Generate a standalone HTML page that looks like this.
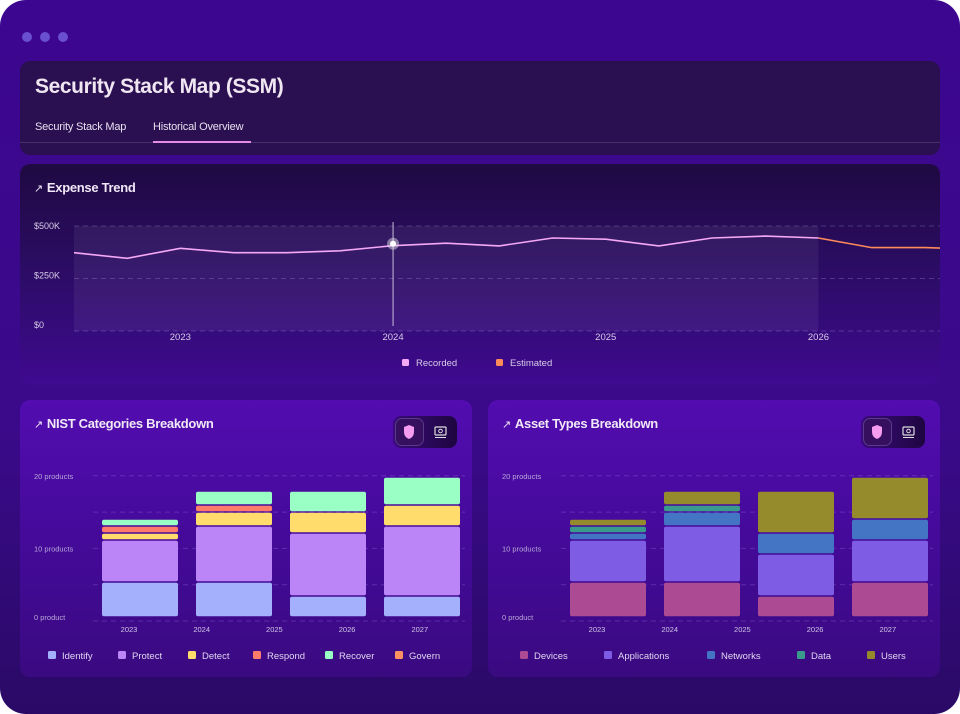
<!DOCTYPE html>
<html><head><meta charset="utf-8">
<style>
*{margin:0;padding:0;box-sizing:border-box}
body{width:960px;height:714px;background:#fff;font-family:"Liberation Sans",sans-serif;overflow:hidden}
#win{position:absolute;left:0;top:0;width:960px;height:714px;border-radius:26px;background:linear-gradient(180deg,#3c0690 0%,#3a0a8a 60%,#2a0a66 100%);overflow:hidden}
.dot{position:absolute;top:32px;width:10px;height:10px;border-radius:50%;background:#6a4fd0}
.card{position:absolute;border-radius:10px}
#hdr{left:20px;top:61px;width:920px;height:94px;background:#2a1050}
#hdr h1{position:absolute;left:15px;top:14px;font-size:21px;font-weight:bold;color:#efe6f2;letter-spacing:-0.4px}
.tab{position:absolute;top:60px;font-size:11px;color:#e8dff0;letter-spacing:-0.2px}
#tabline{position:absolute;left:0;top:81px;width:920px;height:1px;background:#46306a}
#tabul{position:absolute;left:133px;top:80px;width:98px;height:2px;background:#e58be6}
#exp{left:20px;top:164px;width:920px;height:221px;background:linear-gradient(180deg,#1f0a42 0%,#2c0c66 50%,#3f0a90 100%)}
.bc{top:400px;width:452px;height:277px;background:linear-gradient(180deg,#520cb0 0%,#420a95 60%,#3a0a80 100%)}
.ct{position:absolute;left:14px;top:16px;font-size:13px;font-weight:bold;color:#f0e8f6;letter-spacing:-0.3px}
.ct span{font-weight:normal;margin-right:4px;font-size:11px}
.tog{position:absolute;left:373px;top:16px;width:64px;height:32px;border-radius:8px;background:linear-gradient(90deg,#3a0a7a,#1e0640)}
.tog .on{position:absolute;left:2px;top:2px;width:29px;height:28px;border-radius:7px;background:#36105e;border:1px solid #5a3a8a}
svg text{font-family:"Liberation Sans",sans-serif}
</style></head><body>
<div id="win">
<div class="dot" style="left:22px"></div>
<div class="dot" style="left:40px"></div>
<div class="dot" style="left:58px"></div>

<div id="hdr" class="card">
<h1>Security Stack Map (SSM)</h1>
<div class="tab" style="left:15px">Security Stack Map</div>
<div class="tab" style="left:133px">Historical Overview</div>
<div id="tabline"></div>
<div id="tabul"></div>
</div>

<div id="exp" class="card">
<div class="ct"><span>↗</span>Expense Trend</div>
</div>
<svg id="lineSvg" style="position:absolute;left:0;top:0" width="960" height="714"></svg>

<div class="card bc" style="left:20px">
<div class="ct"><span>↗</span>NIST Categories Breakdown</div>
<div class="tog"><div class="on"></div>
<svg width="64" height="32" style="position:absolute;left:0;top:0"><path d="M11 11 L16 9 L21 11 L21 16 Q21 21 16 23 Q11 21 11 16 Z" fill="#f59cf0"/><rect x="42" y="11" width="11" height="8" rx="1" fill="none" stroke="#ddd" stroke-width="1.2"/><circle cx="47.5" cy="15" r="1.8" fill="none" stroke="#ddd"/><line x1="42" y1="21.5" x2="53" y2="21.5" stroke="#ddd"/></svg></div>
</div>
<div class="card bc" style="left:488px">
<div class="ct"><span>↗</span>Asset Types Breakdown</div>
<div class="tog"><div class="on"></div>
<svg width="64" height="32" style="position:absolute;left:0;top:0"><path d="M11 11 L16 9 L21 11 L21 16 Q21 21 16 23 Q11 21 11 16 Z" fill="#f59cf0"/><rect x="42" y="11" width="11" height="8" rx="1" fill="none" stroke="#ddd" stroke-width="1.2"/><circle cx="47.5" cy="15" r="1.8" fill="none" stroke="#ddd"/><line x1="42" y1="21.5" x2="53" y2="21.5" stroke="#ddd"/></svg></div>
</div>
<svg id="barSvg" style="position:absolute;left:0;top:0" width="960" height="714"></svg>
</div>

<script>
// Expense trend data (quarterly, starting Q3 2022), in $K
const expenseValues = [373,346,394,373,373,382,406,418,405,443,437,405,443,452,443,397,397,389];
const recordedCount = 15;
const expenseYTicks = [0,250,500];
const expenseYLabels = ["$0","$250K","$500K"];
const expenseXTicks = [2023,2024,2025,2026];
const hoverIndex = 6;

// NIST data
const nistYears = ["2023","2024","2025","2026","2027"];
const nistBarYears = ["2023","2024","2026","2027"];
const nistSeries = ["Identify","Protect","Detect","Respond","Recover","Govern"];
const nistIdentify = [5,5,3,3];
const nistProtect = [6,8,9,10];
const nistDetect = [1,2,3,3];
const nistRespond = [1,1,0,0];
const nistRecover = [1,2,3,4];
const nistGovern = [0,0,0,0];
// Asset data
const assetSeries = ["Devices","Applications","Networks","Data","Users"];
const assetDevices = [5,5,3,5];
const assetApplications = [6,8,6,6];
const assetNetworks = [1,2,3,3];
const assetData = [1,1,0,0];
const assetUsers = [1,2,6,6];
const barYTicks = [0,10,20];
const barYLabels = ["0 product","10 products","20 products"];

const NS="http://www.w3.org/2000/svg";
function mk(svg,tag,attrs,txt){const e=document.createElementNS(NS,tag);for(const k in attrs)e.setAttribute(k,attrs[k]);if(txt!==undefined)e.textContent=txt;svg.appendChild(e);return e;}

// ---- line chart
(function(){
const s=document.getElementById('lineSvg');
const x0=74,y0=331,y1=226,xEnd=940;
const xStart=2022.5,pxYear=212.7;
const X=t=>x0+(t-xStart)*pxYear;
const Y=v=>y0-(v/500)*(y0-y1);
const xi=i=>X(xStart+i*0.25);
const cp=mk(s,'clipPath',{id:'lc'});mk(cp,'rect',{x:x0,y:200,width:xEnd-x0,height:140});
let r=mk(s,'rect',{x:x0,y:Y(500),width:xi(recordedCount-1)-x0,height:y0-Y(500),fill:'rgba(255,255,255,0.06)'});

expenseYTicks.forEach((v,i)=>{
 let l=mk(s,'line',{x1:x0,x2:xEnd,y1:Y(v),y2:Y(v),stroke:'rgba(200,170,255,0.25)','stroke-dasharray':'5 4'});
 
 let t=mk(s,'text',{x:34,y:Y(v)+3-(i===0?6:i===1?3:0),'font-size':9,fill:'#d8cce8'},expenseYLabels[i]);
 
});
expenseXTicks.forEach(yr=>{
 let t=mk(s,'text',{x:X(yr),y:340,'font-size':9.5,fill:'#d8cce8','text-anchor':'middle'},String(yr));
 
});
const pts=(a,b)=>expenseValues.slice(a,b).map((v,k)=>xi(a+k).toFixed(1)+','+Y(v).toFixed(1)).join(' ');
let p1=mk(s,'polyline',{points:pts(0,recordedCount),fill:'none',stroke:'#f5a8f5','stroke-width':1.6,'clip-path':'url(#lc)'});

let p2=mk(s,'polyline',{points:pts(recordedCount-1,expenseValues.length),fill:'none',stroke:'#ff8a5a','stroke-width':1.6,'clip-path':'url(#lc)'});

const hx=xi(hoverIndex),hy=Y(expenseValues[hoverIndex]);
let hl=mk(s,'line',{x1:hx,x2:hx,y1:222,y2:326,stroke:'#c8bcd8','stroke-width':1});

mk(s,'circle',{cx:hx,cy:hy-2,r:6,fill:'rgba(220,220,230,0.5)'});
let hc=mk(s,'circle',{cx:hx,cy:hy-2,r:3,fill:'#fff'});

[['Recorded','#f5a8f5',402],['Estimated','#ff8a5a',496]].forEach(([n,c,x])=>{
 let g=mk(s,'g',{});
 mk(g,'rect',{x:x,y:359,width:7,height:7,rx:1.5,fill:c});
 mk(g,'text',{x:x+14,y:366,'font-size':9.5,fill:'#d8cce8'},n);
});
})();

// ---- bar charts
function barChart(ox,series,colors,data,legendX,prefix){
 const s=document.getElementById('barSvg');
 const g0=621,gU=7.26,x0=ox+73,x1=ox+445;
 const base=617,pxU=7.0;
 const GY=v=>g0-v*gU;
 const Y=v=>base-v*pxU;
 [0,5,10,15,20].forEach(v=>{
  let l=mk(s,'line',{x1:x0,x2:x1,y1:GY(v),y2:GY(v),stroke:'rgba(200,170,255,0.22)','stroke-dasharray':'5 4'});
  
 });
 barYTicks.forEach((v,i)=>{
  let t=mk(s,'text',{x:ox+14,y:GY(v)+3-(i===0?4:0),'font-size':7.5,fill:'#b8a8d8'},barYLabels[i]);
  
 });
 nistYears.forEach((yr,i)=>{
  let t=mk(s,'text',{x:ox+109+i*72.7,y:632,'font-size':7.5,fill:'#d0c4e4','text-anchor':'middle'},yr);
  
 });
 const bw=76;
 nistBarYears.forEach((yr,i)=>{
  const cx=ox+120+i*94;let acc=0;
  data.forEach((arr,si)=>{
   const v=arr[i];if(!v)return;
   const top=Y(acc+v),bot=Y(acc);acc+=v;
   let r=mk(s,'rect',{x:cx-bw/2,y:top+0.8,width:bw,height:Math.max(bot-top-1.6,0.5),rx:2,fill:colors[si]});
   
   
  });
 });
 series.forEach((n,i)=>{
  let g=mk(s,'g',{});
  const x=ox+legendX[i];
  mk(g,'rect',{x:x,y:651,width:8,height:8,rx:1.5,fill:colors[i]});
  mk(g,'text',{x:x+14,y:659,'font-size':9.5,fill:'#e0d4f0'},n);
 });
}
barChart(20,nistSeries,['#a5b0fc','#bb85f8','#ffdc6c','#ff7c6a','#9affc4','#ff9060'],
 [nistIdentify,nistProtect,nistDetect,nistRespond,nistRecover,nistGovern],[28,98,168,233,305,375],'nist');
barChart(488,assetSeries,['#ac4a94','#7e5ce4','#4474c4','#3a9a8c','#958a2c'],
 [assetDevices,assetApplications,assetNetworks,assetData,assetUsers],[32,116,219,309,379],'asset');
</script>
</body></html>
